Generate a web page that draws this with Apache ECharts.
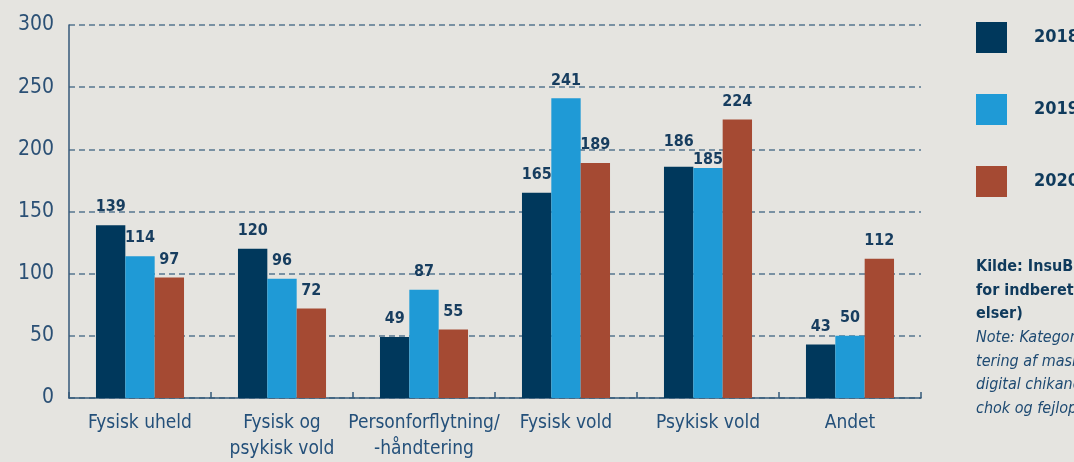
<!DOCTYPE html>
<html>
<head>
<meta charset="utf-8">
<script src="https://cdn.jsdelivr.net/npm/echarts@6/dist/echarts.min.js"></script>
<style>
html,body{margin:0;padding:0;background:#e5e4e0;}
#chart{width:1074px;height:462px;}
</style>
</head>
<body>
<div id="chart"></div>
<script>
const categories = ['Fysisk uheld', 'Fysisk og\npsykisk vold', 'Personforflytning/\n-håndtering', 'Fysisk vold', 'Psykisk vold', 'Andet'];
const seriesNames = ['2018', '2019', '2020'];
const values2018 = [139, 120, 49, 165, 186, 43];
const values2019 = [114, 96, 87, 241, 185, 50];
const values2020 = [97, 72, 55, 189, 224, 112];
const yTicks = [0, 50, 100, 150, 200, 250, 300];
const noteLines = ['Kilde: InsuBiz (system', 'for indberetning af hænd-', 'elser)'];
const noteItalic = ['Note: Kategorien «Andet» dækker', 'tering af maskiner og udstyr,', 'digital chikane, trusler, el-', 'chok og fejloplysninger.'];

const FONT = '"Liberation Sans Narrow", "DejaVu Sans Condensed", "Roboto", sans-serif';
const colors = ['#00385c', '#1f9ad6', '#a54a33'];
const allValues = [values2018, values2019, values2020];
const chart = echarts.init(document.getElementById('chart'));

// When two neighbouring bars are almost equally tall their labels would touch;
// lift the left label and drop the right one, as in the original layout.
function labelDistance(s, i) {
  const v = allValues[s][i];
  const left = s > 0 ? allValues[s - 1][i] : null;
  const right = s < allValues.length - 1 ? allValues[s + 1][i] : null;
  if (right !== null && Math.abs(right - v) <= 5) return 17;
  if (left !== null && Math.abs(left - v) <= 5) return 0;
  return 10;
}

function mkSeries(s) {
  return {
    name: seriesNames[s], type: 'bar',
    data: allValues[s].map((v, i) => ({value: v, label: {distance: labelDistance(s, i)}})),
    barGap: 0, barCategoryGap: '38%',
    itemStyle: {color: colors[s]},
    label: {show: true, position: 'top', distance: 10, color: '#173d5f', fontFamily: FONT, fontWeight: 'bold', fontSize: 16}
  };
}

const richText = noteLines.map(l => '{b|' + l + '}').concat(noteItalic.map(l => '{i|' + l + '}')).join('\n');

chart.setOption({
  backgroundColor: '#e5e4e0',
  animation: false,
  grid: {left: 69, right: 153, top: 25, bottom: 64, containLabel: false},
  legend: {
    data: seriesNames, orient: 'vertical', left: 976, top: 22, padding: 0,
    itemWidth: 31, itemHeight: 31, itemGap: 41, icon: 'rect',
    textStyle: {color: '#0f3a5c', fontFamily: FONT, fontWeight: 'bold', fontSize: 18, padding: [0, 0, 0, 22]}
  },
  xAxis: {
    type: 'category', data: categories,
    axisLine: {lineStyle: {color: '#35597a', width: 1.5}},
    axisTick: {show: true, inside: true, length: 6, lineStyle: {color: '#35597a', width: 1.5}},
    axisLabel: {color: '#24507a', fontFamily: FONT, fontSize: 19, lineHeight: 26, margin: 12, interval: 0}
  },
  yAxis: {
    type: 'value', min: yTicks[0], max: yTicks[yTicks.length - 1], interval: 50,
    axisLine: {show: true, lineStyle: {color: '#35597a', width: 1.5}},
    axisTick: {show: false},
    axisLabel: {color: '#2b5075', fontFamily: FONT, fontSize: 21, margin: 15},
    splitLine: {lineStyle: {color: '#56768f', type: [6, 4], width: 1.5}}
  },
  graphic: [{
    type: 'text', left: 976, top: 259, silent: true,
    style: {
      text: richText, font: '16px ' + FONT, fill: '#0f3a5c',
      rich: {
        b: {fontFamily: FONT, fontWeight: 'bold', fontSize: 16, fill: '#0f3a5c', lineHeight: 23.6},
        i: {fontFamily: FONT, fontStyle: 'italic', fontSize: 16, fill: '#1e4a72', lineHeight: 23.6}
      }
    }
  }],
  series: [mkSeries(0), mkSeries(1), mkSeries(2)]
});
</script>
</body>
</html>
